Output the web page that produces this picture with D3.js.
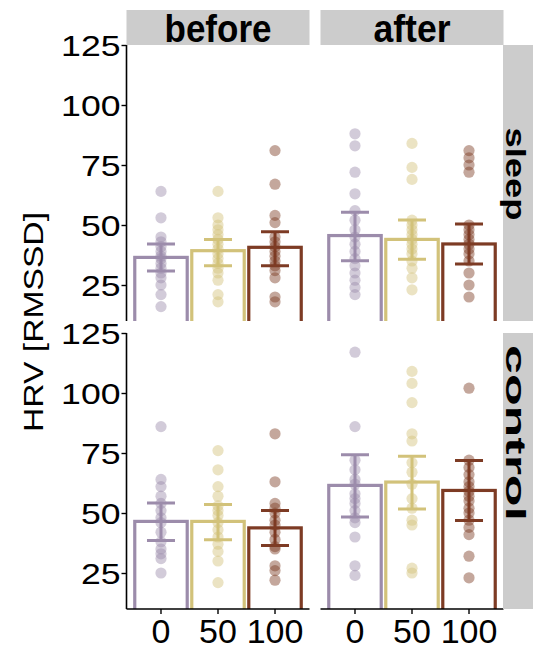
<!DOCTYPE html>
<html>
<head>
<meta charset="utf-8">
<script src="https://cdn.jsdelivr.net/npm/d3@7"></script>
<style>
  html, body { margin: 0; padding: 0; background: #ffffff; }
  svg { display: block; font-family: "Liberation Sans", Arial, Helvetica, sans-serif; }
</style>
</head>
<body>
<svg id="chart" width="533" height="653"></svg>
<script>
// Columns (time), rows (condition) and x categories (dose)
const timepoints = ["before", "after"];
const conditions = ["sleep", "control"];
const doses = ["0", "50", "100"];
const yTicks = [25, 50, 75, 100, 125];

// Individual HRV values per dose: sleep condition
const sleepBefore = [
  [64, 53, 45, 43, 41, 39, 37, 36, 34, 32, 30, 28, 25, 21, 16],
  [64, 53, 50, 48, 46, 44, 42, 40, 38, 36, 34, 32, 30, 27, 21, 18],
  [81, 67, 54, 51, 45, 43, 41, 39, 37, 35, 33, 31, 28, 20, 18]
];
const sleepAfter = [
  [88, 83, 72, 63, 56, 52, 48, 45, 42, 39, 36, 33, 30, 27, 24, 21],
  [84, 74, 69, 52, 50, 48, 46, 44, 42, 40, 38, 35, 32, 28, 23],
  [81, 78, 75, 72, 50, 48, 46, 44, 42, 40, 38, 35, 30, 25, 20]
];
// Individual HRV values per dose: control condition
const controlBefore = [
  [86, 64, 61, 57, 54, 51, 48, 46, 42, 38, 35, 33, 31, 25],
  [76, 68, 61, 57, 53, 51, 49, 46, 43, 40, 37, 34, 30, 21],
  [83, 63, 54, 52, 50, 47, 45, 42, 39, 36, 35, 28, 26, 22]
];
const controlAfter = [
  [117, 86, 72, 68, 64, 62, 58, 56, 54, 51, 48, 46, 40, 28, 24],
  [109, 104, 96, 83, 80, 71, 67, 62, 56, 52, 47, 45, 27, 25],
  [102, 72, 69, 66, 63, 61, 59, 57, 55, 52, 50, 47, 44, 41, 32, 23]
];

// Group means and interval bounds
const sleepBeforeMean = [36.5, 39.3, 40.7];
const sleepBeforeLow  = [30.8, 33.0, 33.0];
const sleepBeforeHigh = [42.1, 44.0, 47.2];
const sleepAfterMean  = [45.6, 44.0, 42.1];
const sleepAfterLow   = [35.1, 35.7, 33.8];
const sleepAfterHigh  = [55.3, 52.1, 50.4];
const controlBeforeMean = [46.5, 46.5, 43.8];
const controlBeforeLow  = [38.5, 38.9, 36.5];
const controlBeforeHigh = [54.2, 53.5, 51.0];
const controlAfterMean  = [61.5, 62.9, 59.4];
const controlAfterLow   = [48.3, 51.7, 46.9];
const controlAfterHigh  = [74.3, 73.6, 71.9];

const doseColors = ["#9c8cab", "#d2c27a", "#7d3b24"];

const panels = [
  { row: 0, col: 0, pts: sleepBefore,   mean: sleepBeforeMean,   lo: sleepBeforeLow,   hi: sleepBeforeHigh },
  { row: 0, col: 1, pts: sleepAfter,    mean: sleepAfterMean,    lo: sleepAfterLow,    hi: sleepAfterHigh },
  { row: 1, col: 0, pts: controlBefore, mean: controlBeforeMean, lo: controlBeforeLow, hi: controlBeforeHigh },
  { row: 1, col: 1, pts: controlAfter,  mean: controlAfterMean,  lo: controlAfterLow,  hi: controlAfterHigh }
];

// Layout
const colLeft = [126.5, 320.5];
const panelW = 183;
const rowTop = [45, 333];
const panelH = 276;
const stripTop = 10, stripH = 35;
const rightStripX = 503, rightStripW = 30;

const svg = d3.select("#chart");
const defs = svg.append("defs");

const x = d3.scaleBand().domain(doses).range([0, panelW]).paddingInner(0.08).paddingOuter(0.145);
const y = d3.scaleLinear().domain([10, 125]).range([panelH, 0]);

panels.forEach((p, i) => {
  const g = svg.append("g").attr("transform", `translate(${colLeft[p.col]},${rowTop[p.row]})`);
  const clipId = "clip" + i;
  defs.append("clipPath").attr("id", clipId)
    .append("rect").attr("x", 0).attr("y", 0).attr("width", panelW).attr("height", panelH);
  const body = g.append("g").attr("clip-path", `url(#${clipId})`);

  // bars (mean)
  body.selectAll("rect.bar").data(doses).enter().append("rect")
    .attr("class", "bar")
    .attr("x", d => x(d))
    .attr("width", x.bandwidth())
    .attr("y", (d, j) => y(p.mean[j]))
    .attr("height", (d, j) => panelH + 10 - y(p.mean[j]))
    .attr("fill", "#ffffff")
    .attr("stroke", (d, j) => doseColors[j])
    .attr("stroke-width", 3.2);

  // individual points
  doses.forEach((d, j) => {
    body.selectAll(null).data(p.pts[j]).enter().append("circle")
      .attr("cx", x(d) + x.bandwidth() / 2)
      .attr("cy", v => y(v))
      .attr("r", 5.6)
      .attr("fill", doseColors[j])
      .attr("fill-opacity", 0.45);
  });

  // error bars
  const capW = 28;
  doses.forEach((d, j) => {
    const cx = x(d) + x.bandwidth() / 2;
    const eg = body.append("g").attr("stroke", doseColors[j]).attr("stroke-width", 3);
    eg.append("line").attr("x1", cx).attr("x2", cx).attr("y1", y(p.lo[j])).attr("y2", y(p.hi[j]));
    eg.append("line").attr("x1", cx - capW / 2).attr("x2", cx + capW / 2).attr("y1", y(p.hi[j])).attr("y2", y(p.hi[j]));
    eg.append("line").attr("x1", cx - capW / 2).attr("x2", cx + capW / 2).attr("y1", y(p.lo[j])).attr("y2", y(p.lo[j]));
  });

  // y axis on left column
  if (p.col === 0) {
    const ya = g.append("g").call(d3.axisLeft(y).tickValues(yTicks).tickSize(5).tickPadding(1).tickSizeOuter(0));
    ya.select(".domain").attr("stroke", "#000").attr("stroke-width", 1.6).attr("d", `M0,0V${panelH}`);
    ya.selectAll(".tick line").attr("stroke", "#000").attr("stroke-width", 1.4);
    ya.selectAll(".tick text")
      .attr("font-size", 30)
      .attr("fill", "#000")
      .attr("font-family", "Liberation Sans, Arial, sans-serif")
      .attr("dy", "0.36em")
      .attr("textLength", d => String(d).length * 19.8)
      .attr("lengthAdjust", "spacingAndGlyphs");
  }
  // x axis on bottom row
  if (p.row === 1) {
    const xa = g.append("g").attr("transform", `translate(0,${panelH})`)
      .call(d3.axisBottom(x).tickSize(5).tickPadding(5).tickSizeOuter(0));
    xa.select(".domain").attr("stroke", "#000").attr("stroke-width", 1.6).attr("d", `M0,0H${panelW}`);
    xa.selectAll(".tick line").attr("stroke", "#000").attr("stroke-width", 1.4);
    xa.selectAll(".tick text")
      .attr("font-size", 34)
      .attr("fill", "#000")
      .attr("font-family", "Liberation Sans, Arial, sans-serif");
  }
});

// top strips
const stripTextLen = { before: 107, after: 77 };
timepoints.forEach((t, c) => {
  svg.append("rect").attr("x", colLeft[c]).attr("y", stripTop).attr("width", panelW).attr("height", stripH).attr("fill", "#cccccc");
  svg.append("text")
    .attr("x", colLeft[c] + panelW / 2)
    .attr("y", stripTop + 32)
    .attr("text-anchor", "middle")
    .attr("font-size", 39)
    .attr("font-weight", "bold")
    .attr("fill", "#000")
    .attr("textLength", stripTextLen[t])
    .attr("lengthAdjust", "spacingAndGlyphs")
    .text(t);
});

// right strips
const rowTextCenter = [174, 433];
const rowTextLen = { sleep: 93, control: 176 };
conditions.forEach((cnd, r) => {
  svg.append("rect").attr("x", rightStripX).attr("y", rowTop[r]).attr("width", rightStripW).attr("height", panelH).attr("fill", "#cccccc");
  svg.append("text")
    .attr("transform", `translate(506,${rowTextCenter[r]}) rotate(90)`)
    .attr("text-anchor", "middle")
    .attr("font-size", 27)
    .attr("font-weight", "bold")
    .attr("fill", "#000")
    .attr("textLength", rowTextLen[cnd])
    .attr("lengthAdjust", "spacingAndGlyphs")
    .text(cnd);
});

// y axis title
svg.append("text")
  .attr("transform", "translate(43,322) rotate(-90)")
  .attr("text-anchor", "middle")
  .attr("font-size", 28)
  .attr("fill", "#000")
  .attr("textLength", 220)
  .attr("lengthAdjust", "spacingAndGlyphs")
  .text("HRV [RMSSD]");
</script>
</body>
</html>
